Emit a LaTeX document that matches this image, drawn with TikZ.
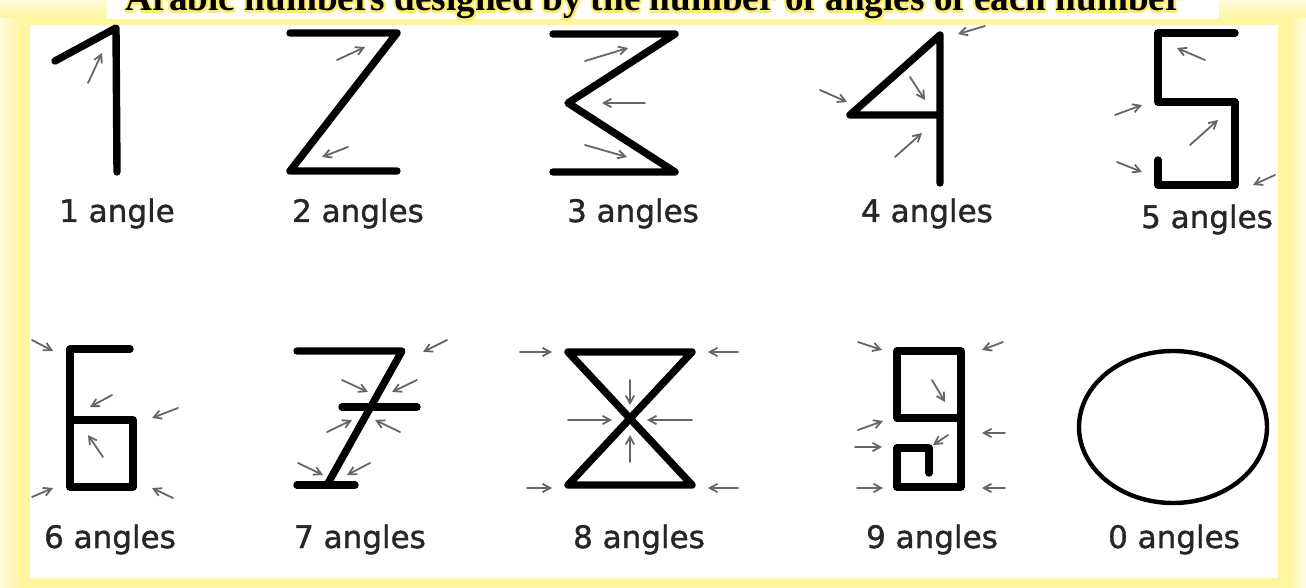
\documentclass[tikz,border=0pt]{standalone}
\usepackage{xcolor}
\usepackage{fontspec}
\setmainfont{Liberation Serif}
\newfontfamily\labelfont[FakeBold=1.2]{DejaVu Sans}
\usetikzlibrary{arrows.meta}

\definecolor{frameyellow}{HTML}{FFF59E}
\definecolor{creamyellow}{HTML}{FFFBE0}
\definecolor{glowyellow}{HTML}{FFEC6A}

\begin{document}
\begin{tikzpicture}[x=0.5pt, y=-0.5pt,
    glyph/.style={line width=3.7pt, line cap=round, line join=round},
    pointer/.style={-{Straight Barb[length=3.8pt,width=4.2pt]}, line width=0.9pt, black!60, line cap=round},
    anglelabel/.style={anchor=base, inner sep=0pt, text=black!85,
        font=\labelfont\fontsize{15.5pt}{17pt}\selectfont}]
    \useasboundingbox (0,0) rectangle (1306,588);
    \clip (0,0) rectangle (1306,588);

    % Frame and panels
    \fill[frameyellow] (0,0) rectangle (1306,588);
    \shade[left color=creamyellow, right color=frameyellow] (0,0) rectangle (20,588);
    \shade[left color=frameyellow, right color=creamyellow] (1286,0) rectangle (1306,588);
    \shade[top color=creamyellow, bottom color=frameyellow] (0,0) rectangle (107,18);
    \shade[top color=creamyellow, bottom color=frameyellow] (1219,0) rectangle (1306,18);
    \fill[white] (107,0) rectangle (1219,19);
    \fill[white] (30,25) rectangle (1278,578);

    % Title (cut at the top)
    \foreach \dx/\dy [count=\i] in {-2/0, 2/0, 0/-2, 0/2.5, -1.5/1.5, 1.5/1.5, 2/2, -1.5/-1.5}
        \node[anchor=base, inner sep=0pt, text=glowyellow, font=\bfseries\fontsize{18.6pt}{20pt}\selectfont]
            (glow\i) at (654+\dx,11+\dy) {Arabic numbers designed by the number of angles of each number};
    \node[anchor=base, inner sep=0pt, font=\bfseries\fontsize{18.6pt}{20pt}\selectfont]
        (title) at (654,11) {Arabic numbers designed by the number of angles of each number};

    % One
    \draw[glyph] (55,61) -- (116,28) -- (117,172);
    \draw[pointer] (88,83) -- (102,53);
    \node[anglelabel] (lab1) at (117,222) {1 angle};

    % Two
    \draw[glyph] (290,33) -- (397,33) -- (290,171) -- (397,171);
    \draw[pointer] (337,60) -- (365,47);
    \draw[pointer] (348,147) -- (322,157);
    \node[anglelabel] (lab2) at (358,222) {2 angles};

    % Three
    \draw[glyph] (553,34) -- (675,34) -- (568,103) -- (675,172) -- (553,172);
    \draw[pointer] (585,61) -- (628,48);
    \draw[pointer] (645,103) -- (602,103);
    \draw[pointer] (585,145) -- (627,157);
    \node[anglelabel] (lab3) at (633,222) {3 angles};

    % Four
    \draw[glyph] (940,183) -- (940,35) -- (850,115) -- (940,115);
    \draw[pointer] (985,26) -- (958,34);
    \draw[pointer] (820,90) -- (847,102);
    \draw[pointer] (910,77) -- (925,100);
    \draw[pointer] (895,157) -- (922,133);
    \node[anglelabel] (lab4) at (927,222) {4 angles};

    % Five
    \draw[glyph] (1235,33) -- (1158,33) -- (1158,102) -- (1235,102) -- (1235,185) -- (1158,185) -- (1158,160);
    \draw[pointer] (1205,60) -- (1177,48);
    \draw[pointer] (1115,115) -- (1142,105);
    \draw[pointer] (1190,145) -- (1218,120);
    \draw[pointer] (1117,162) -- (1142,172);
    \draw[pointer] (1275,175) -- (1253,185);
    \node[anglelabel] (lab5) at (1207,228) {5 angles};

    % Six
    \draw[glyph] (130,349) -- (70,349) -- (70,487) -- (133,487) -- (133,420) -- (70,420);
    \draw[pointer] (32,340) -- (53,351);
    \draw[pointer] (112,395) -- (90,407);
    \draw[pointer] (178,408) -- (152,418);
    \draw[pointer] (103,457) -- (88,435);
    \draw[pointer] (32,497) -- (53,488);
    \draw[pointer] (173,498) -- (152,488);
    \node[anglelabel] (lab6) at (110,548) {6 angles};

    % Seven
    \draw[glyph] (297,351) -- (402,351) -- (327,485);
    \draw[glyph] (297,485) -- (355,485);
    \draw[glyph] (342,407) -- (417,407);
    \draw[pointer] (447,340) -- (423,352);
    \draw[pointer] (342,380) -- (368,392);
    \draw[pointer] (417,380) -- (392,392);
    \draw[pointer] (327,432) -- (352,420);
    \draw[pointer] (400,432) -- (375,420);
    \draw[pointer] (298,463) -- (323,475);
    \draw[pointer] (370,463) -- (347,475);
    \node[anglelabel] (lab7) at (360,548) {7 angles};

    % Eight
    \draw[glyph] (568,352) -- (692,352) -- (568,485) -- (692,485) -- cycle;
    \draw[pointer] (520,352) -- (552,352);
    \draw[pointer] (738,352) -- (708,352);
    \draw[pointer] (630,380) -- (630,405);
    \draw[pointer] (568,420) -- (612,420);
    \draw[pointer] (692,420) -- (647,420);
    \draw[pointer] (630,462) -- (630,435);
    \draw[pointer] (527,488) -- (552,488);
    \draw[pointer] (738,488) -- (708,488);
    \node[anglelabel] (lab8) at (639,548) {8 angles};

    % Nine
    \draw[glyph] (961,418) -- (897,418) -- (897,351) -- (961,351) -- (961,487) -- (897,487) -- (897,448) -- (929,448) -- (929,473);
    \draw[pointer] (858,342) -- (882,350);
    \draw[pointer] (1003,342) -- (982,350);
    \draw[pointer] (932,380) -- (945,402);
    \draw[pointer] (858,430) -- (883,421);
    \draw[pointer] (855,447) -- (882,447);
    \draw[pointer] (948,435) -- (933,445);
    \draw[pointer] (1005,433) -- (982,433);
    \draw[pointer] (857,488) -- (883,488);
    \draw[pointer] (1005,488) -- (982,488);
    \node[anglelabel] (lab9) at (932,548) {9 angles};

    % Zero
    \draw[line width=2.2pt] (1173,427) ellipse [x radius=47pt, y radius=38pt];
    \node[anglelabel] (lab0) at (1174,548) {0 angles};
\end{tikzpicture}
\end{document}
